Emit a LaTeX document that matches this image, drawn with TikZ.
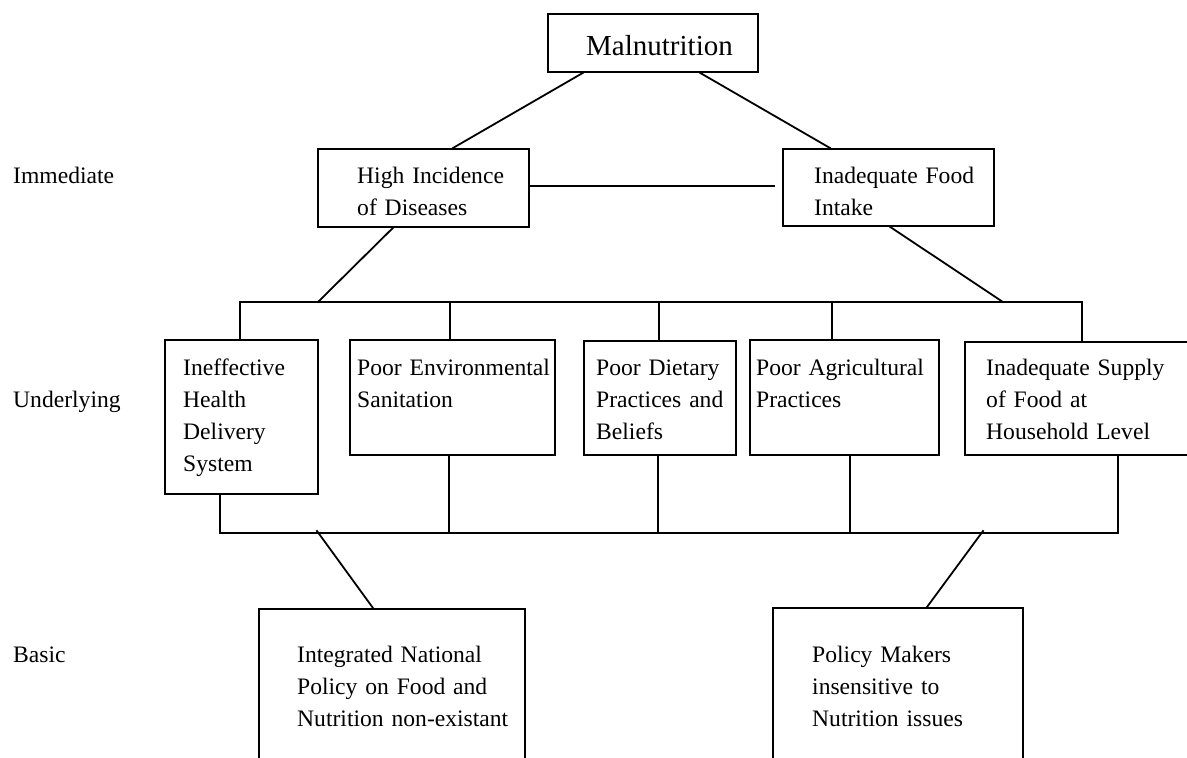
\documentclass[tikz,border=0pt]{standalone}
\usepackage{fontspec}
\setmainfont{Liberation Serif}
\usetikzlibrary{calc}
\tikzset{
  ln/.style={line width=1.8pt, line cap=rect},
  boxnode/.style={draw, line width=1.8pt, inner sep=0pt, anchor=north west, rectangle},
  txt/.style={anchor=base west, inner sep=0pt, text width=330pt, align=left,
              font=\fontsize{23.6}{32}\selectfont},
  bigtxt/.style={anchor=base west, inner sep=0pt, font=\fontsize{29}{34}\selectfont}
}
\begin{document}
\begin{tikzpicture}[x=1pt,y=1pt]
\useasboundingbox (0,0) rectangle (1187,-758);
\clip (0,0) rectangle (1187,-758);
\fill[white] (0,0) rectangle (1187,-758);

% boxes
\node[boxnode, minimum width=210pt, minimum height=58pt] (mal) at (547,-13) {};
\node[boxnode, minimum width=211pt, minimum height=78pt] (hid) at (317,-148) {};
\node[boxnode, minimum width=211pt, minimum height=77pt] (ifi) at (782,-148) {};
\node[boxnode, minimum width=153pt, minimum height=154pt] (b1) at (164,-339) {};
\node[boxnode, minimum width=205pt, minimum height=115pt] (b2) at (349,-339) {};
\node[boxnode, minimum width=152pt, minimum height=114pt] (b3) at (583,-340) {};
\node[boxnode, minimum width=189pt, minimum height=115pt] (b4) at (749,-339) {};
\node[boxnode, minimum width=240pt, minimum height=113pt] (b5) at (964,-341) {};
\node[boxnode, minimum width=266pt, minimum height=180pt] (int) at (258,-608) {};
\node[boxnode, minimum width=250pt, minimum height=180pt] (pm) at (772,-607) {};

% texts
\node[bigtxt] (tmal) at (586,-55) {Malnutrition};
\node[txt] (lim) at (13,-183) {Immediate};
\node[txt] (lun) at (13,-407) {Underlying};
\node[txt] (lba) at (13,-662) {Basic};
\node[txt] (thid) at (357,-183) {High Incidence\\of Diseases};
\node[txt] (tifi) at (814,-183) {Inadequate Food\\Intake};
\node[txt] (tb1) at (183,-375) {Ineffective\\Health\\Delivery\\System};
\node[txt] (tb2) at (357,-375) {Poor Environmental\\Sanitation};
\node[txt] (tb3) at (596,-375) {Poor Dietary\\Practices and\\Beliefs};
\node[txt] (tb4) at (756,-375) {Poor Agricultural\\Practices};
\node[txt] (tb5) at (986,-375) {Inadequate Supply\\of Food at\\Household Level};
\node[txt] (tint) at (297,-662) {Integrated National\\Policy on Food and\\Nutrition non-existant};
\node[txt] (tpm) at (812,-662) {Policy Makers\\insensitive to\\Nutrition issues};

% junction coordinates
\coordinate (j1) at (318,-302);
\coordinate (j2) at (1003,-302);
\coordinate (j3) at (317,-531);
\coordinate (j4) at (983,-531);

% connectors
\draw[ln] ($(mal.south west)+(36,0)$) -- ($(hid.north west)+(136,0)$);
\draw[ln] ($(mal.south west)+(153,0)$) -- ($(ifi.north west)+(48,0)$);
\draw[ln] ($(hid.north east)+(0,-38)$) -- ($(ifi.north west)+(-8,-38)$);
\draw[ln] ($(hid.south west)+(76,0)$) -- (j1);
\draw[ln] ($(ifi.south west)+(108,0)$) -- (j2);

% top bus
\draw[ln, line cap=butt] ($(b1.north west)+(76,0)$) -- ++(0,37) -| ($(b5.north west)+(118,0)$);
\draw[ln, line cap=butt] ($(b2.north west)+(101,0)$) -- ++(0,37);
\draw[ln, line cap=butt] ($(b3.north west)+(76,0)$) -- ++(0,38);
\draw[ln, line cap=butt] ($(b4.north west)+(83,0)$) -- ++(0,37);

% bottom bus
\draw[ln, line cap=butt] ($(b1.south west)+(56,0)$) -- ++(0,-38) -| ($(b5.south west)+(154,0)$);
\draw[ln, line cap=butt] ($(b2.south west)+(100,0)$) -- ++(0,-77);
\draw[ln, line cap=butt] ($(b3.south west)+(75,0)$) -- ++(0,-77);
\draw[ln, line cap=butt] ($(b4.south west)+(101,0)$) -- ++(0,-77);

\draw[ln] (j3) -- ($(int.north west)+(115,0)$);
\draw[ln] (j4) -- ($(pm.north west)+(155,0)$);
\end{tikzpicture}
\end{document}
